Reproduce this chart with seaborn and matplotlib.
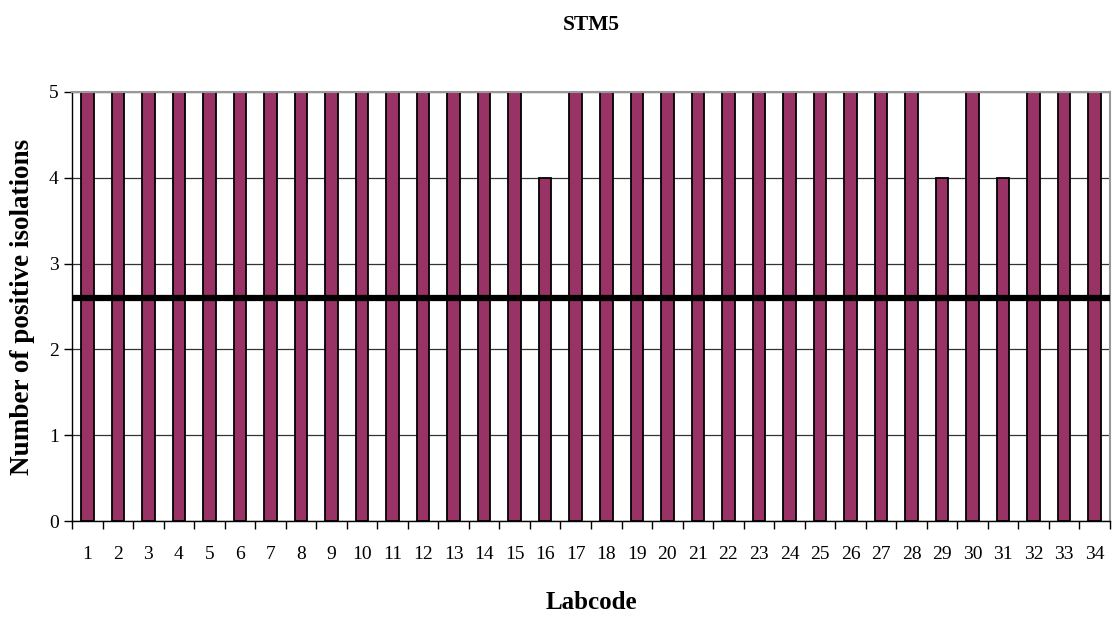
import numpy as np
import pandas as pd
import seaborn as sns
import matplotlib
matplotlib.use('Agg')
import matplotlib.pyplot as plt

# data
labcodes = [str(i) for i in range(1, 35)]
positives = [5, 5, 5, 5, 5, 5, 5, 5, 5, 5, 5, 5, 5, 5, 5, 4, 5, 5, 5, 5,
             5, 5, 5, 5, 5, 5, 5, 5, 4, 5, 4, 5, 5, 5]
threshold = 2.6

sns.set_style('white')
plt.rcParams['font.family'] = ['Liberation Serif', 'DejaVu Serif']
plt.rcParams['text.color'] = 'black'
plt.rcParams['axes.labelcolor'] = 'black'
plt.rcParams['xtick.color'] = 'black'
plt.rcParams['ytick.color'] = 'black'

df = pd.DataFrame({'Labcode': labcodes, 'Positives': positives})

fig, ax = plt.subplots(figsize=(11.16, 6.17), dpi=100)
fig.subplots_adjust(left=72/1116, right=1110/1116, top=1-92/617, bottom=1-521/617)

sns.barplot(data=df, x='Labcode', y='Positives', color='#993366',
            edgecolor='black', linewidth=1.3, width=0.41, saturation=1, ax=ax)

ax.axhline(threshold, color='black', linewidth=4.5, zorder=5)

ax.set_ylim(0, 5)
ax.set_xlim(-0.5, len(labcodes) - 0.5)
ax.set_yticks(range(0, 6))
ax.yaxis.grid(True, color='#333333', linewidth=0.9)
ax.set_axisbelow(True)

# ticks at category boundaries, Excel style
ax.set_xticks(np.arange(-0.5, len(labcodes), 1), minor=True)
ax.tick_params(axis='x', which='major', length=0, pad=18, labelsize=14)
ax.tick_params(axis='x', which='minor', length=6, width=1, direction='out', color='black')
ax.tick_params(axis='y', length=6, width=1, direction='out', color='black', labelsize=14)
ax.tick_params(bottom=True, left=True, which='both')

for side in ['top', 'right']:
    ax.spines[side].set_color('#999999')
    ax.spines[side].set_linewidth(1.5)
for side in ['left', 'bottom']:
    ax.spines[side].set_color('black')
    ax.spines[side].set_linewidth(1)

ax.set_title('STM5', fontsize=15.5, fontweight='bold', pad=45)
ax.set_xlabel('Labcode', fontsize=18, fontweight='bold', labelpad=20)
ax.set_ylabel('Number of positive isolations', fontsize=19.5, fontweight='bold', labelpad=10)

fig.savefig('out.png', dpi=100)
